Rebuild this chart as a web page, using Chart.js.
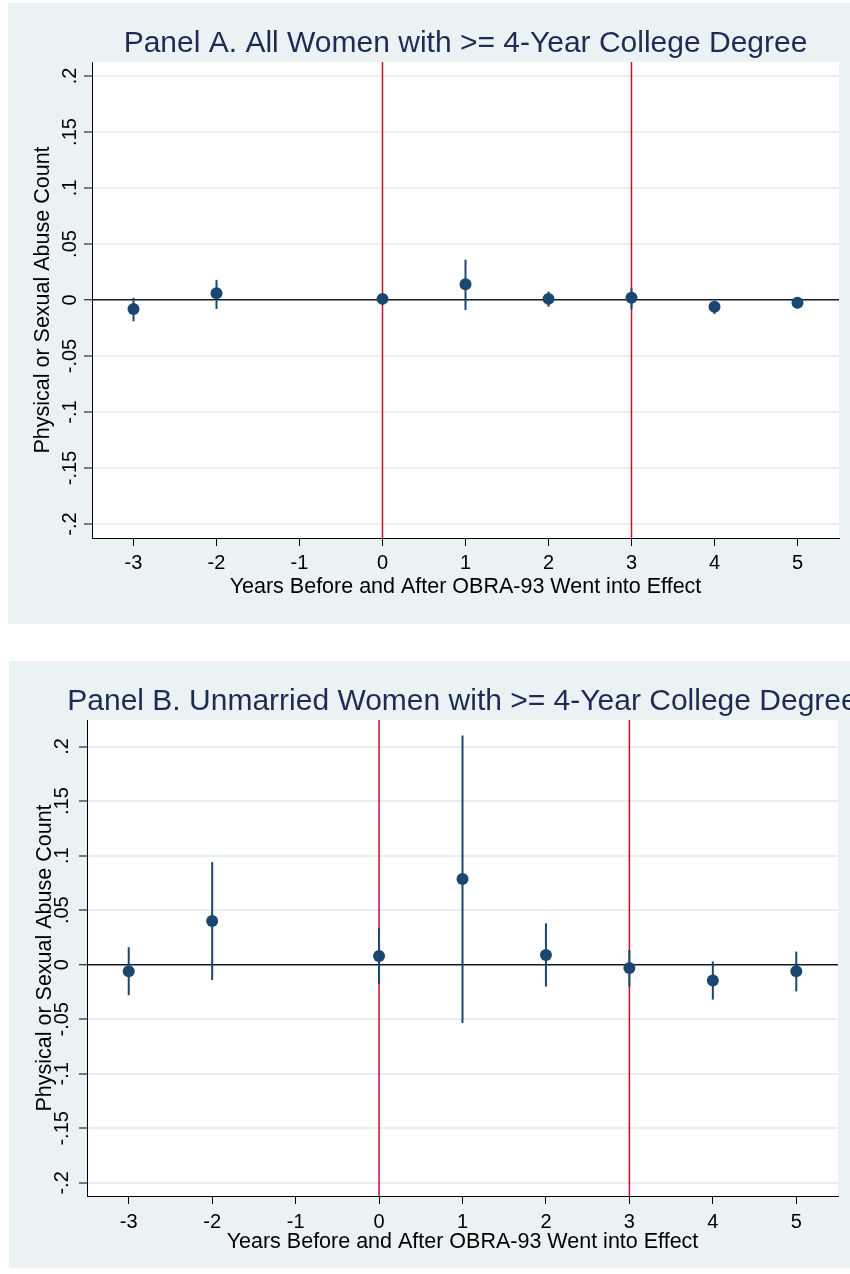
<!DOCTYPE html>
<html>
<head>
<meta charset="utf-8">
<script src="https://cdn.jsdelivr.net/npm/chart.js@4.4.1/dist/chart.umd.min.js"></script>
<style>
    body { margin: 0; background: #fff; width: 850px; height: 1274px; position: relative; overflow: hidden; }
    .panel { position: absolute; background: #eaf2f3; }
    canvas { display: block; }
</style>
</head>
<body>
<div class="panel" style="left:8px; top:3px; width:842px; height:621px;">
    <canvas id="panelA" width="842" height="621"></canvas>
</div>
<div class="panel" style="left:9px; top:661px; width:841px; height:607px;">
    <canvas id="panelB" width="841" height="607"></canvas>
</div>
<script>
// years relative to OBRA-93 (no estimate at -1)
const years = [-3, -2, 0, 1, 2, 3, 4, 5];

// Panel A: all women with >= 4-year degree
const estA = [-0.008, 0.006, 0.001, 0.014, 0.001, 0.002, -0.006, -0.0025];
const loA  = [-0.019, -0.008, -0.004, -0.009, -0.006, -0.008, -0.0125, -0.0075];
const hiA  = [0.002, 0.018, 0.0055, 0.036, 0.0075, 0.0105, -0.002, 0.002];

// Panel B: unmarried women with >= 4-year degree
const estB = [-0.006, 0.040, 0.008, 0.0785, 0.009, -0.003, -0.0145, -0.006];
const loB  = [-0.028, -0.014, -0.0175, -0.0535, -0.020, -0.020, -0.032, -0.0245];
const hiB  = [0.016, 0.094, 0.0335, 0.210, 0.038, 0.0135, 0.003, 0.012];

const xTicks = [-3, -2, -1, 0, 1, 2, 3, 4, 5];
const yTicks = [0.2, 0.15, 0.1, 0.05, 0, -0.05, -0.1, -0.15, -0.2];
const yTickLabels = ['.2', '.15', '.1', '.05', '0', '-.05', '-.1', '-.15', '-.2'];
const eventLines = [0, 3];

const fontFam = "'Liberation Sans', Arial, Helvetica, sans-serif";
const navy = '#1a476f';

// white plot region, red event lines, and the panel title
// (title drawn by hand so panel B can run off the edge like the original)
const plotBits = {
    id: 'plotBits',
    beforeDraw(chart) {
        const a = chart.chartArea;
        const ctx = chart.ctx;
        ctx.save();
        ctx.fillStyle = '#fff';
        ctx.fillRect(a.left, a.top, a.right - a.left, a.bottom - a.top);
        ctx.restore();
    },
    beforeDatasetsDraw(chart) {
        const a = chart.chartArea;
        const ctx = chart.ctx;
        const xs = chart.scales.x;
        ctx.save();
        ctx.strokeStyle = '#c8102e';
        ctx.lineWidth = 1.5;
        eventLines.forEach(v => {
            const px = xs.getPixelForValue(v);
            ctx.beginPath();
            ctx.moveTo(px, a.top);
            ctx.lineTo(px, a.bottom);
            ctx.stroke();
        });
        ctx.restore();
    },
    afterDraw(chart, args, opts) {
        const a = chart.chartArea;
        const ctx = chart.ctx;
        ctx.save();
        ctx.fillStyle = '#1e2c54';
        ctx.font = opts.size + 'px ' + fontFam;
        ctx.textAlign = 'center';
        ctx.textBaseline = 'middle';
        ctx.fillText(opts.text, (a.left + a.right) / 2, opts.y);
        ctx.restore();
    }
};

function makePanel(id, titleText, est, lo, hi, p) {
    let datasets = [{
        type: 'scatter',
        data: years.map((y, i) => ({x: y, y: est[i]})),
        backgroundColor: navy,
        borderWidth: 0,
        pointRadius: 6,
        pointHoverRadius: 6
    }];
    for (let i = 0; i < years.length; i++) {
        datasets.push({
            type: 'line',
            data: [{x: years[i], y: lo[i]}, {x: years[i], y: hi[i]}],
            borderColor: navy,
            borderWidth: 2,
            pointRadius: 0,
            fill: false
        });
    }

    return new Chart(document.getElementById(id), {
        type: 'scatter',
        data: { datasets: datasets },
        options: {
            responsive: false,
            animation: false,
            events: [],
            layout: { padding: { top: 59, left: 0, right: p.padRight, bottom: 0 } },
            plugins: {
                legend: { display: false },
                tooltip: { enabled: false },
                title: { display: false },
                plotBits: { text: titleText, size: 30, y: p.titleY }
            },
            scales: {
                x: {
                    type: 'linear',
                    min: -3.5,
                    max: 5.5,
                    afterBuildTicks: s => { s.ticks = xTicks.map(v => ({value: v})); },
                    afterFit: s => { s.height = p.xHeight; },
                    border: { display: true, color: '#000', width: 1 },
                    grid: { drawOnChartArea: false, drawTicks: true, tickLength: 8, tickColor: '#000', tickWidth: 1 },
                    ticks: {
                        color: '#000',
                        padding: p.xTickPad,
                        font: { family: fontFam, size: 20 },
                        maxRotation: 0
                    },
                    title: {
                        display: true,
                        text: 'Years Before and After OBRA-93 Went into Effect',
                        color: '#000',
                        font: { family: fontFam, size: 21.5, lineHeight: 1.2 },
                        padding: { top: 0, bottom: p.xTitlePad }
                    }
                },
                y: {
                    type: 'linear',
                    min: p.yMin,
                    max: p.yMax,
                    afterBuildTicks: s => { s.ticks = yTicks.map(v => ({value: v})); },
                    afterFit: s => { s.width = p.yWidth; },
                    border: { display: true, color: '#000', width: 1 },
                    grid: {
                        drawTicks: true,
                        tickLength: 8,
                        tickColor: '#000',
                        tickWidth: 1,
                        color: c => (c.tick && c.tick.value === 0) ? '#1a1a1a' : '#e6eff1',
                        lineWidth: c => (c.tick && c.tick.value === 0) ? 1.5 : 2
                    },
                    ticks: {
                        color: '#000',
                        minRotation: 90,
                        maxRotation: 90,
                        crossAlign: 'center',
                        padding: p.yTickPad,
                        font: { family: fontFam, size: 20 },
                        callback: (v, i) => yTickLabels[i]
                    },
                    title: {
                        display: true,
                        text: 'Physical or Sexual Abuse Count',
                        color: '#000',
                        font: { family: fontFam, size: 21.5, lineHeight: 1.2 },
                        padding: { top: p.yTitlePad, bottom: 0 }
                    }
                }
            }
        },
        plugins: [plotBits]
    });
}

makePanel('panelA', 'Panel A. All Women with >= 4-Year College Degree', estA, loA, hiA, {
    padRight: 11, xHeight: 86, xTickPad: 5, xTitlePad: 24.2, titleY: 41,
    yWidth: 84, yTickPad: -4.2, yTitlePad: 22.2, yMin: -0.2125, yMax: 0.2125
});

makePanel('panelB', 'Panel B. Unmarried Women with >= 4-Year College Degree', estB, loB, hiB, {
    padRight: 12, xHeight: 72, xTickPad: 6, xTitlePad: 13.2, titleY: 40.5,
    yWidth: 78, yTickPad: -0.9, yTitlePad: 23.2, yMin: -0.212, yMax: 0.2243
});
</script>
</body>
</html>
